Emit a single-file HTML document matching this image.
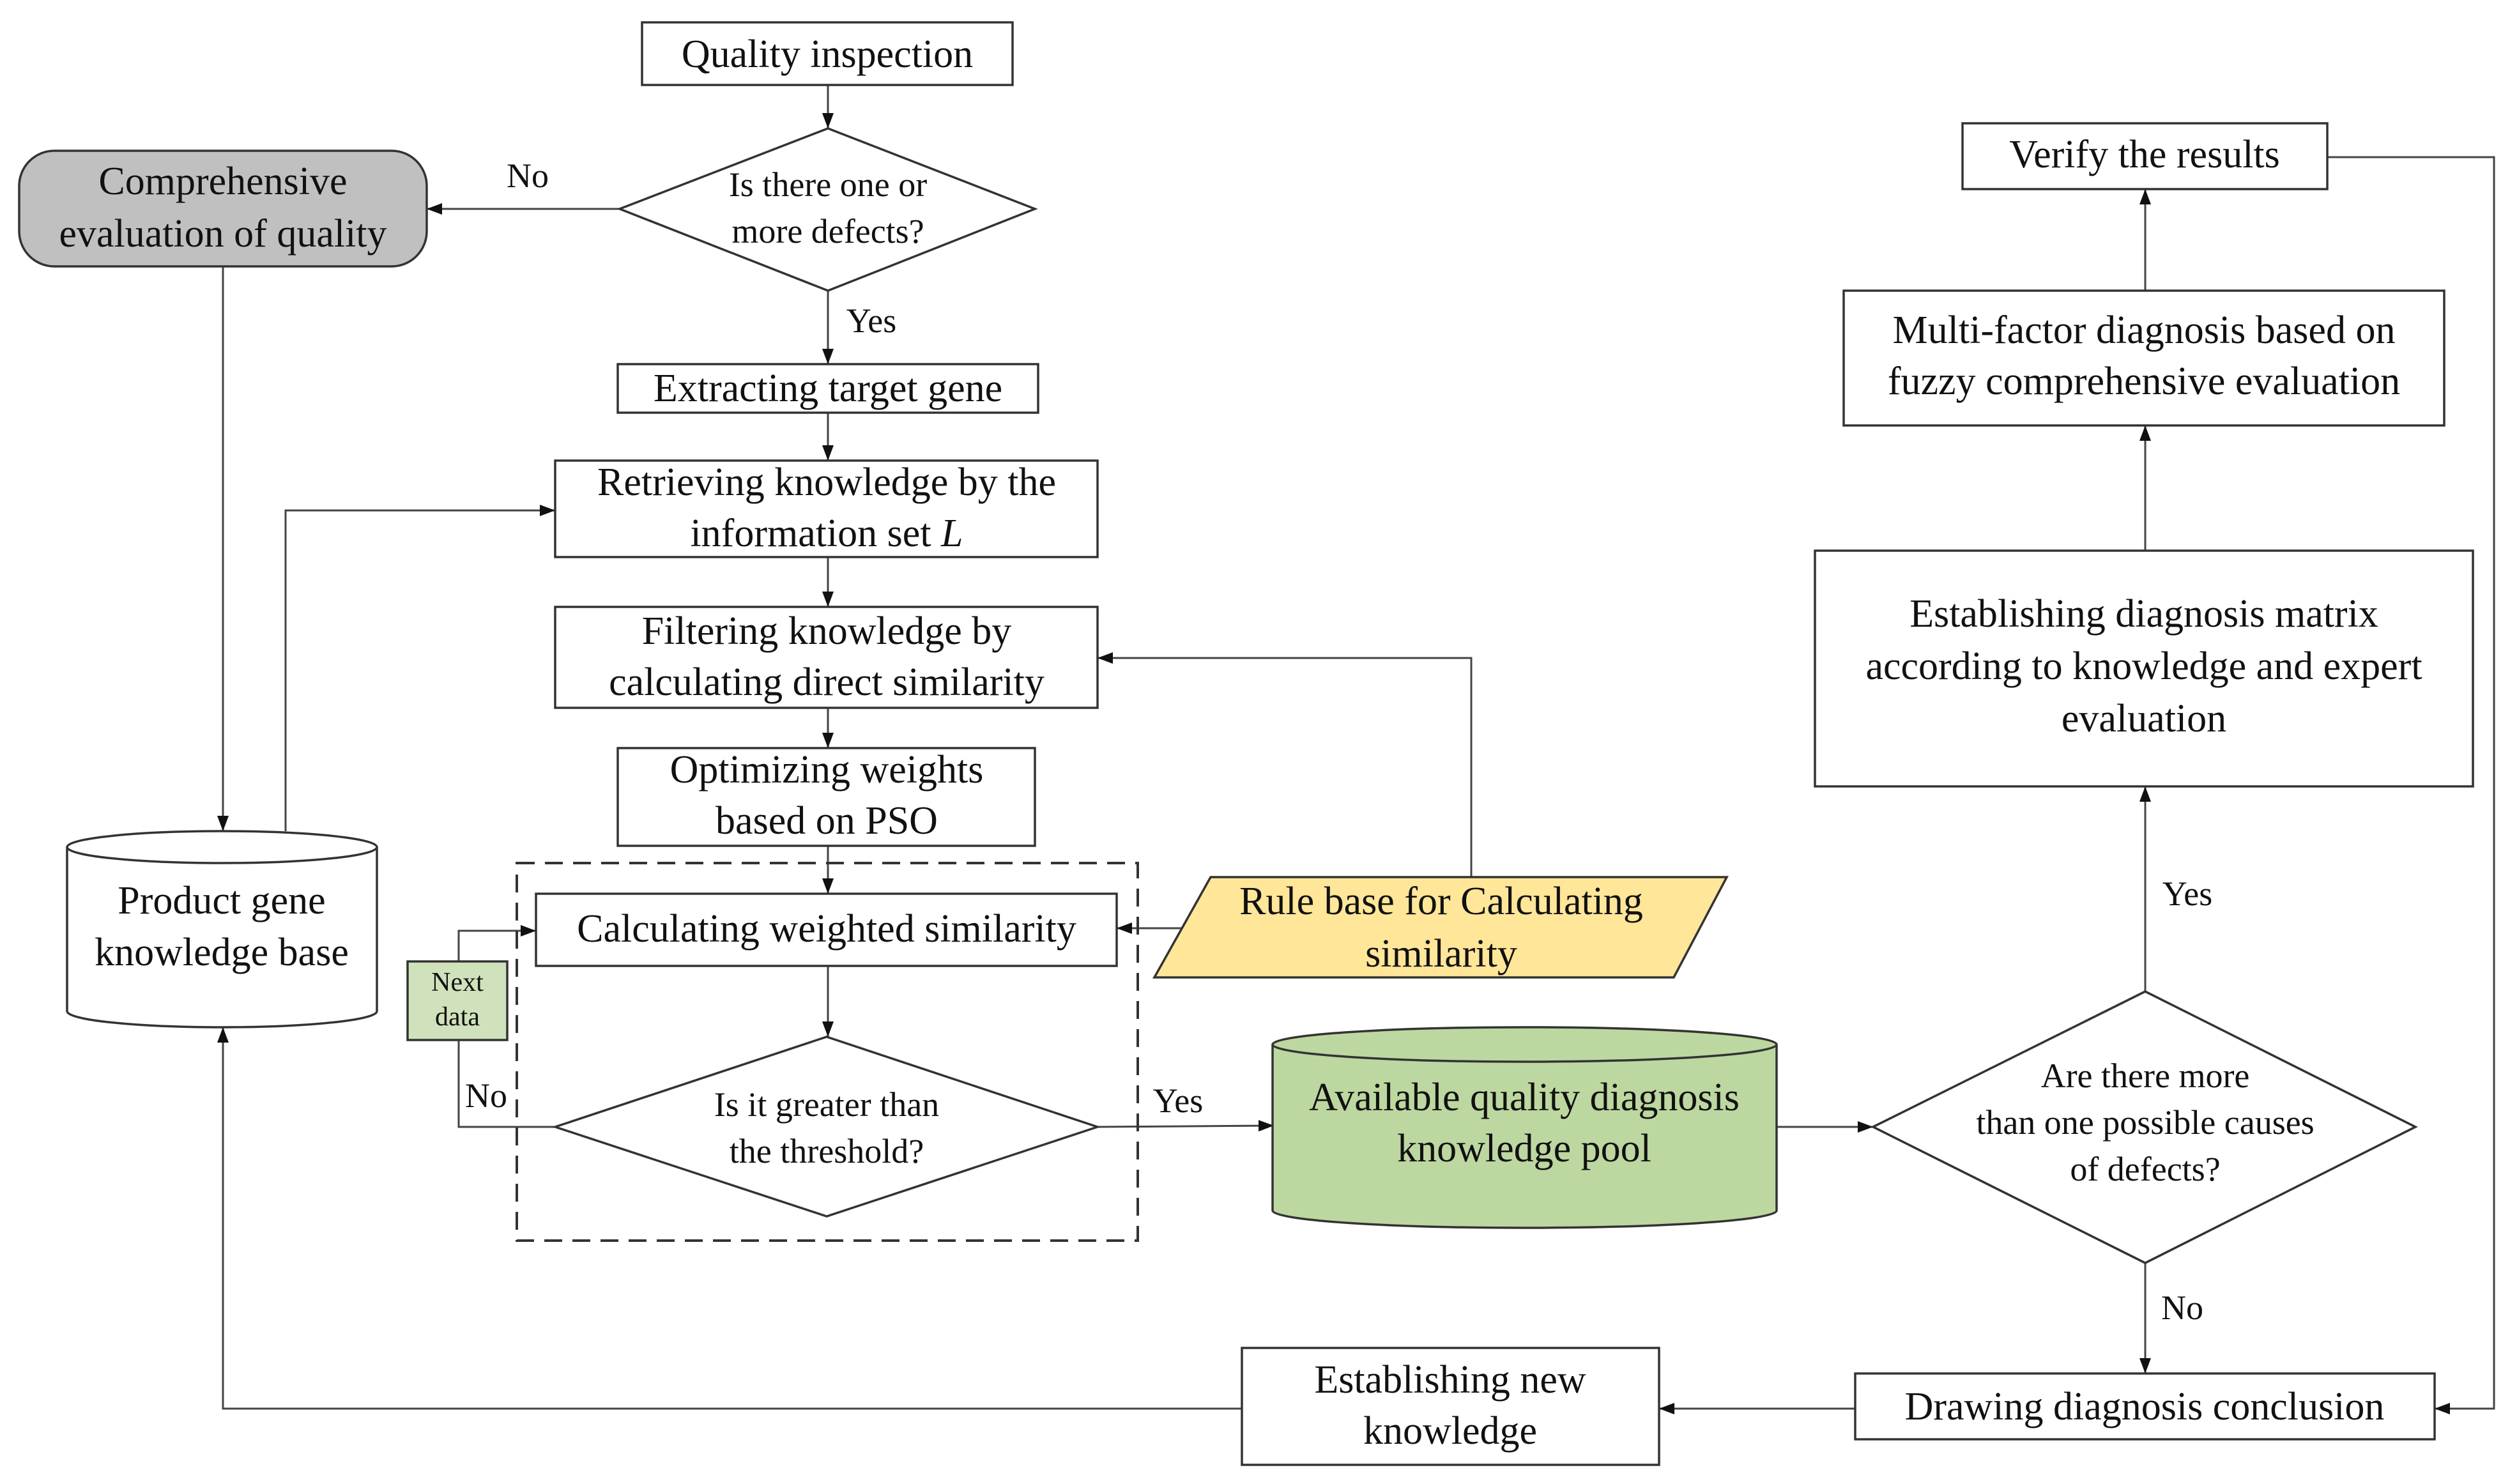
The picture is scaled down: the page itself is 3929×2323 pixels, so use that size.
<!DOCTYPE html>
<html><head><meta charset="utf-8"><style>
html,body{margin:0;padding:0;background:#fff;}
svg{display:block;}
text{font-family:"Liberation Serif",serif;fill:#111;text-anchor:middle;}
</style></head><body>
<svg width="3929" height="2323" viewBox="0 0 3929 2323" xmlns="http://www.w3.org/2000/svg">
<defs>
<marker id="a" markerWidth="10" markerHeight="8" refX="10" refY="4" orient="auto" markerUnits="userSpaceOnUse" viewBox="0 0 10 8">
<path d="M0,0 L10,4 L0,8 z" fill="#111"/>
</marker>
<marker id="ar" viewBox="0 0 24 18" refX="24" refY="9" markerWidth="24" markerHeight="18" orient="auto" markerUnits="userSpaceOnUse"><path d="M0,0 L24,9 L0,18 z" fill="#111"/></marker>
</defs>
<g fill="none" stroke="#444" stroke-width="3">
<!-- connectors -->
<line x1="1296" y1="133" x2="1296" y2="201" marker-end="url(#ar)"/>
<line x1="970" y1="327" x2="668" y2="327" marker-end="url(#ar)"/>
<line x1="1296" y1="455" x2="1296" y2="570" marker-end="url(#ar)"/>
<line x1="1296" y1="646" x2="1296" y2="721" marker-end="url(#ar)"/>
<line x1="1296" y1="872" x2="1296" y2="950" marker-end="url(#ar)"/>
<line x1="1296" y1="1108" x2="1296" y2="1171" marker-end="url(#ar)"/>
<line x1="1296" y1="1324" x2="1296" y2="1399" marker-end="url(#ar)"/>
<line x1="1296" y1="1512" x2="1296" y2="1623" marker-end="url(#ar)"/>
<polyline points="869,1764 718,1764 718,1457 839,1457" marker-end="url(#ar)"/>
<line x1="1718" y1="1764" x2="1994" y2="1762" marker-end="url(#ar)"/>
<line x1="1855" y1="1453" x2="1748" y2="1453" marker-end="url(#ar)"/>
<polyline points="2303,1374 2303,1030 1718,1030" marker-end="url(#ar)"/>
<line x1="349" y1="417" x2="349" y2="1301" marker-end="url(#ar)"/>
<polyline points="447,1301 447,799 869,799" marker-end="url(#ar)"/>
<polyline points="1944,2205 349,2205 349,1608" marker-end="url(#ar)"/>
<line x1="2904" y1="2205" x2="2597" y2="2205" marker-end="url(#ar)"/>
<line x1="2781" y1="1764" x2="2932" y2="1764" marker-end="url(#ar)"/>
<line x1="3358" y1="1977" x2="3358" y2="2150" marker-end="url(#ar)"/>
<line x1="3358" y1="1552" x2="3358" y2="1231" marker-end="url(#ar)"/>
<line x1="3358" y1="862" x2="3358" y2="666" marker-end="url(#ar)"/>
<line x1="3358" y1="455" x2="3358" y2="296" marker-end="url(#ar)"/>
<polyline points="3643,246 3904,246 3904,2205 3811,2205" marker-end="url(#ar)"/>
</g>
<g stroke="#333" stroke-width="3.5">
<rect x="1005" y="35" width="580" height="98" fill="#fff"/>
<polygon points="970,327 1296,201 1620,327 1296,455" fill="#fff"/>
<rect x="30" y="236" width="638" height="181" rx="55" fill="#c0c0c0"/>
<rect x="967" y="570" width="658" height="76" fill="#fff"/>
<rect x="869" y="721" width="849" height="151" fill="#fff"/>
<rect x="869" y="950" width="849" height="158" fill="#fff"/>
<rect x="967" y="1171" width="653" height="153" fill="#fff"/>
<rect x="809" y="1351" width="972" height="591" fill="none" stroke-dasharray="28,16" stroke-width="4"/>
<rect x="839" y="1399" width="909" height="113" fill="#fff"/>
<polygon points="869,1764 1294,1623 1718,1764 1294,1904" fill="#fff"/>
<rect x="638" y="1505" width="156" height="123" fill="#cfe2bb"/>
<polygon points="1807,1530 1895,1373 2703,1373 2620,1530" fill="#ffe699"/>
<!-- green cylinder -->
<path d="M1992,1635 L1992,1895 A394.5,27 0 0 0 2781,1895 L2781,1635" fill="#bdd7a0"/>
<ellipse cx="2386.5" cy="1635" rx="394.5" ry="27" fill="#bdd7a0"/>
<!-- product cylinder -->
<path d="M105,1326 L105,1583 A242.5,25 0 0 0 590,1583 L590,1326" fill="#fff"/>
<ellipse cx="347.5" cy="1326" rx="242.5" ry="25" fill="#fff"/>
<rect x="1944" y="2110" width="653" height="183" fill="#fff"/>
<rect x="2904" y="2150" width="907" height="103" fill="#fff"/>
<polygon points="2932,1764 3358,1552 3781,1764 3358,1977" fill="#fff"/>
<rect x="2841" y="862" width="1030" height="369" fill="#fff"/>
<rect x="2886" y="455" width="940" height="211" fill="#fff"/>
<rect x="3072" y="193" width="571" height="103" fill="#fff"/>
</g>
<g font-size="62">
<text x="1295" y="105">Quality inspection</text>
<text x="349" y="304">Comprehensive</text>
<text x="349" y="386">evaluation of quality</text>
<text x="1296" y="628">Extracting target gene</text>
<text x="1294" y="775">Retrieving knowledge by the</text>
<text x="1294" y="855">information set <tspan font-style="italic">L</tspan></text>
<text x="1294" y="1008">Filtering knowledge by</text>
<text x="1294" y="1088">calculating direct similarity</text>
<text x="1294" y="1225">Optimizing weights</text>
<text x="1294" y="1305">based on PSO</text>
<text x="1294" y="1474">Calculating weighted similarity</text>
<text x="2256" y="1431">Rule base for Calculating</text>
<text x="2256" y="1513">similarity</text>
<text x="347" y="1430">Product gene</text>
<text x="347" y="1511">knowledge base</text>
<text x="2386" y="1738">Available quality diagnosis</text>
<text x="2386" y="1818">knowledge pool</text>
<text x="2270" y="2180">Establishing new</text>
<text x="2270" y="2260">knowledge</text>
<text x="3357" y="2222">Drawing diagnosis conclusion</text>
<text x="3356" y="981">Establishing diagnosis matrix</text>
<text x="3356" y="1063">according to knowledge and expert</text>
<text x="3356" y="1145">evaluation</text>
<text x="3356" y="537">Multi-factor diagnosis based on</text>
<text x="3356" y="617">fuzzy comprehensive evaluation</text>
<text x="3357" y="262">Verify the results</text>
</g>
<g font-size="54">
<text x="1296" y="307">Is there one or</text>
<text x="1296" y="380">more defects?</text>
<text x="1294" y="1747">Is it greater than</text>
<text x="1294" y="1820">the threshold?</text>
<text x="3358" y="1702">Are there more</text>
<text x="3358" y="1775">than one possible causes</text>
<text x="3358" y="1848">of defects?</text>
<text x="826" y="293">No</text>
<text x="1364" y="520">Yes</text>
<text x="761" y="1733">No</text>
<text x="1844" y="1741">Yes</text>
<text x="3416" y="2065">No</text>
<text x="3424" y="1417">Yes</text>
</g>
<g font-size="42">
<text x="716" y="1551">Next</text>
<text x="716" y="1605">data</text>
</g>
</svg>
</body></html>
